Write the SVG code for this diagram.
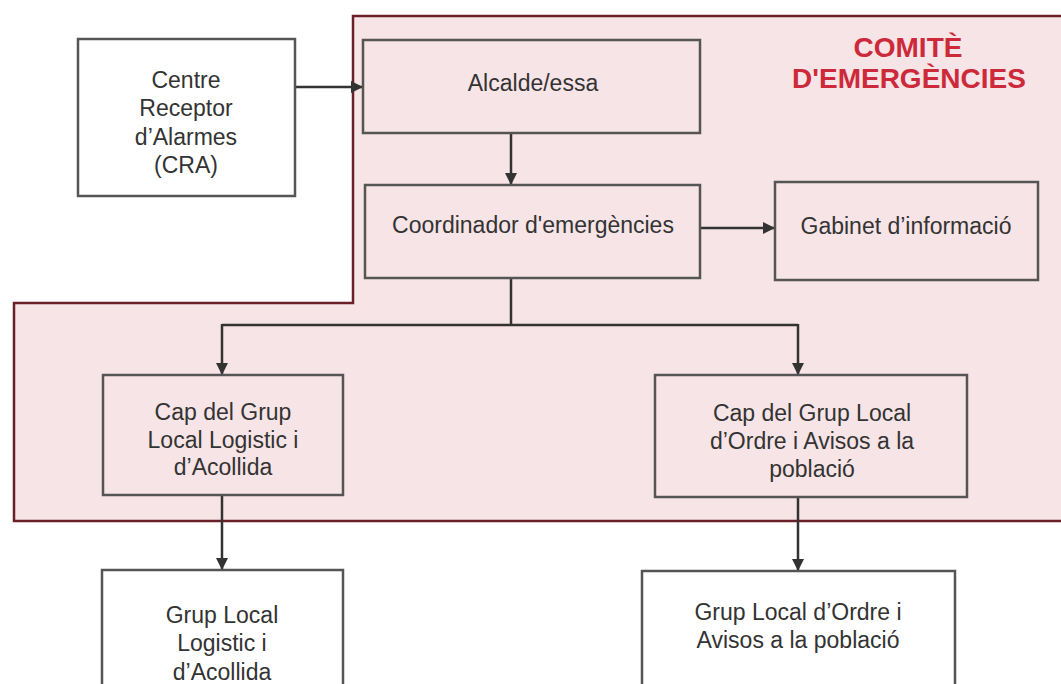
<svg xmlns="http://www.w3.org/2000/svg" width="1061" height="684" viewBox="0 0 1061 684">
<style>
.box{fill:none;stroke:#555;stroke-width:2.5}
.wbox{fill:#fff;stroke:#555;stroke-width:2.5}
.t{font-family:"Liberation Sans",Arial,sans-serif;font-size:23px;fill:#333;text-anchor:middle}
.title{font-family:"Liberation Sans",Arial,sans-serif;font-size:28px;font-weight:bold;fill:#cc2a3a;text-anchor:middle}
.c{fill:none;stroke:#333;stroke-width:2.5}
</style>
<defs>
<marker id="ah" viewBox="0 0 10 10" refX="10" refY="5" markerWidth="5" markerHeight="5" markerUnits="strokeWidth" orient="auto">
<path d="M0,0 L10,5 L0,10 Z" fill="#333"/>
</marker>
</defs>
<rect width="1061" height="684" fill="#fff"/>
<g id="comite">
<path d="M1061,16 L353,16 L353,303 L14,303 L14,521 L1061,521" fill="#f7e4e6" stroke="#6b2028" stroke-width="2.5"/>
<text class="title" x="908" y="57">COMITÈ</text>
<text class="title" x="909" y="88">D'EMERGÈNCIES</text>
</g>
<g id="connectors">
<path class="c" d="M295,87 L363,87" marker-end="url(#ah)"/>
<path class="c" d="M511,133 L511,185" marker-end="url(#ah)"/>
<path class="c" d="M700,228 L775,228" marker-end="url(#ah)"/>
<path class="c" d="M511,278 L511,325"/>
<path class="c" d="M222,325 L798,325"/>
<path class="c" d="M222,324 L222,375" marker-end="url(#ah)"/>
<path class="c" d="M798,324 L798,375" marker-end="url(#ah)"/>
<path class="c" d="M222,495 L222,570" marker-end="url(#ah)"/>
<path class="c" d="M798,497 L798,571" marker-end="url(#ah)"/>
</g>
<g id="cra">
<rect class="wbox" x="78" y="39" width="217" height="157"/>
<text class="t" x="186" y="88">Centre</text>
<text class="t" x="186" y="116">Receptor</text>
<text class="t" x="186" y="145">d’Alarmes</text>
<text class="t" x="186" y="173">(CRA)</text>
</g>
<g id="alcalde">
<rect class="box" x="363" y="40" width="337" height="93"/>
<text class="t" x="533" y="91">Alcalde/essa</text>
</g>
<g id="coordinador">
<rect class="box" x="365" y="185" width="335" height="93"/>
<text class="t" x="533" y="233">Coordinador d'emergències</text>
</g>
<g id="gabinet">
<rect class="box" x="775" y="182" width="263" height="98"/>
<text class="t" x="906" y="234">Gabinet d’informació</text>
</g>
<g id="cap-logistic">
<rect class="box" x="103" y="375" width="240" height="120"/>
<text class="t" x="223" y="420">Cap del Grup</text>
<text class="t" x="223" y="448">Local Logistic i</text>
<text class="t" x="223" y="475">d’Acollida</text>
</g>
<g id="cap-ordre">
<rect class="box" x="655" y="375" width="312" height="122"/>
<text class="t" x="812" y="421">Cap del Grup Local</text>
<text class="t" x="812" y="449">d’Ordre i Avisos a la</text>
<text class="t" x="812" y="477">població</text>
</g>
<g id="grup-logistic">
<rect class="wbox" x="102" y="570" width="241" height="130"/>
<text class="t" x="222" y="623">Grup Local</text>
<text class="t" x="222" y="651">Logistic i</text>
<text class="t" x="222" y="680">d’Acollida</text>
</g>
<g id="grup-ordre">
<rect class="wbox" x="642" y="571" width="313" height="130"/>
<text class="t" x="798" y="620">Grup Local d’Ordre i</text>
<text class="t" x="798" y="648">Avisos a la població</text>
</g>
</svg>
